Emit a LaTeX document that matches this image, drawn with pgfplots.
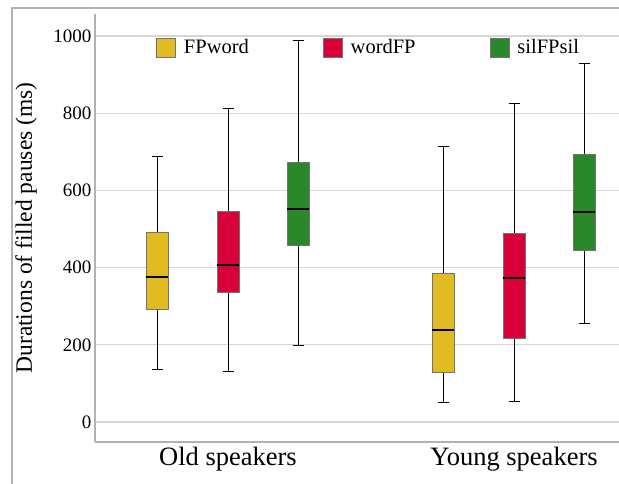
\documentclass[border=0pt]{standalone}
\usepackage{fontspec}
\setmainfont{Liberation Serif}
\usepackage{pgfplots}
\pgfplotsset{compat=1.18}
\usepgfplotslibrary{statistics}
\definecolor{cyel}{RGB}{224,188,34}
\definecolor{cred}{RGB}{215,0,56}
\definecolor{cgrn}{RGB}{42,136,42}
\definecolor{cgrid}{RGB}{214,214,214}
\definecolor{caxis}{RGB}{178,178,178}
\begin{document}
\begin{tikzpicture}
\useasboundingbox (0pt,0pt) rectangle (619pt,484pt);
\draw[caxis, line width=1.5pt] (12pt,0pt) -- (12pt,476pt) -- (619pt,476pt);
\begin{axis}[
  at={(95pt,42pt)}, anchor=south west,
  scale only axis, width=524pt, height=428pt,
  xmin=95, xmax=619, ymin=-51.8, ymax=1057,
  axis lines*=left,
  axis line style={caxis, line width=1.5pt},
  major tick length=0pt,
  ytick={0,200,400,600,800,1000},
  /pgf/number format/1000 sep={},
  ymajorgrids, grid style={cgrid, line width=1.2pt},
  xtick={228,514}, xticklabels={Old speakers, Young speakers},
  /pgf/number format/assume math mode=true,
  yticklabel style={font=\fontsize{19}{22}\selectfont},
  xticklabel style={font=\fontsize{26.5}{30}\selectfont, yshift=-2pt},
  ylabel={Durations of filled pauses (ms)},
  every axis y label/.style={at={(axis description cs:-0.1317,0.5)}, rotate=90, anchor=center, font=\fontsize{23.5}{27}\selectfont},
  boxplot/draw direction=y,
  boxplot/every whisker/.style={draw=black, line width=1pt},
  boxplot/every median/.style={draw=black, line width=2pt},
  boxplot/every box/.style={draw=black!55, line width=0.8pt},
  legend columns=3,
  legend style={draw=none, fill=none, inner sep=0pt, at={(axis description cs:0.1164,0.9217)}, anchor=west,
    nodes={inner sep=0pt, font=\fontsize{20.5}{24}\selectfont},
    /tikz/every odd column/.append style={column sep=8pt},
    /tikz/every even column/.append style={column sep=74pt}},
]
% Old speakers
\addplot[forget plot, fill=cyel, boxplot prepared={draw position=157, lower whisker=135, lower quartile=292, median=375, upper quartile=492, upper whisker=689, box extend=22, whisker extend=11}] coordinates {};
\addplot[forget plot, fill=cred, boxplot prepared={draw position=228, lower whisker=130, lower quartile=335, median=408, upper quartile=546, upper whisker=812, box extend=22, whisker extend=11}] coordinates {};
\addplot[forget plot, fill=cgrn, boxplot prepared={draw position=298, lower whisker=197, lower quartile=457, median=551, upper quartile=673, upper whisker=989, box extend=22, whisker extend=11}] coordinates {};
% Young speakers
\addplot[forget plot, fill=cyel, boxplot prepared={draw position=443, lower whisker=51, lower quartile=128, median=238, upper quartile=386, upper whisker=713, box extend=22, whisker extend=11}] coordinates {};
\addplot[forget plot, fill=cred, boxplot prepared={draw position=514, lower whisker=54, lower quartile=217, median=372, upper quartile=489, upper whisker=826, box extend=22, whisker extend=11}] coordinates {};
\addplot[forget plot, fill=cgrn, boxplot prepared={draw position=584, lower whisker=254, lower quartile=445, median=545, upper quartile=692, upper whisker=928, box extend=22, whisker extend=11}] coordinates {};
\addlegendimage{legend image code/.code={\draw[fill=cyel, draw=black!55, line width=0.8pt] (0pt,-9.5pt) rectangle (19pt,9.5pt);}}
\addlegendentry{FPword}
\addlegendimage{legend image code/.code={\draw[fill=cred, draw=black!55, line width=0.8pt] (0pt,-9.5pt) rectangle (19pt,9.5pt);}}
\addlegendentry{wordFP}
\addlegendimage{legend image code/.code={\draw[fill=cgrn, draw=black!55, line width=0.8pt] (0pt,-9.5pt) rectangle (19pt,9.5pt);}}
\addlegendentry{silFPsil}
\end{axis}
\end{tikzpicture}
\end{document}
